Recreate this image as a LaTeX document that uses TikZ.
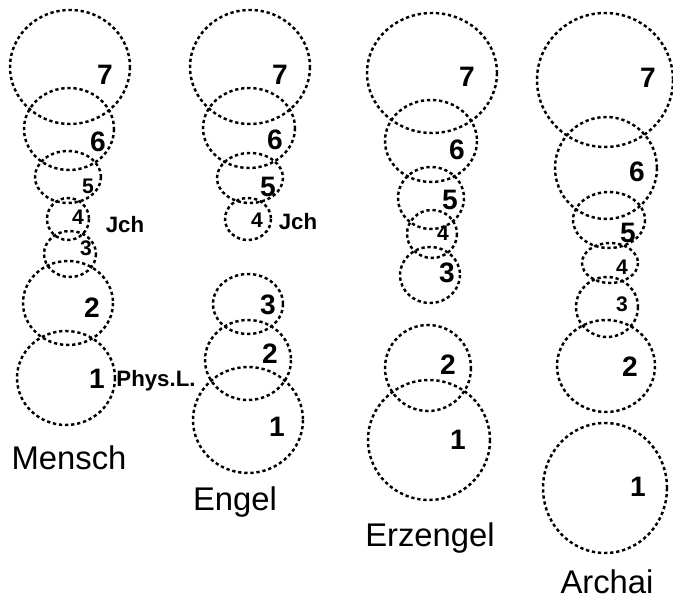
\documentclass[tikz,border=0pt]{standalone}
\usepackage{fontspec}
\setmainfont{Liberation Sans}
\usepackage{tikz}
\usetikzlibrary{positioning}

\begin{document}
\begin{tikzpicture}[
        x=0.3mm, y=-0.3mm,
        ring/.style={line width=2.1pt, dash pattern=on 2.8pt off 2.4pt},
        num/.style={font=\fontsize{24}{24}\selectfont\bfseries, inner sep=0pt},
        smallnum/.style={font=\fontsize{18}{18}\selectfont\bfseries, inner sep=0pt},
        tag/.style={font=\fontsize{19}{19}\selectfont\bfseries, inner sep=0pt},
        title/.style={font=\fontsize{28}{28}\selectfont, inner sep=0pt}
    ]
        \useasboundingbox (0,0) rectangle (673,605);

        % Column 1: Mensch
        \draw[ring] (70,67) ellipse [x radius=60, y radius=57];
        \draw[ring] (69,129) ellipse [x radius=45, y radius=41];
        \draw[ring] (68,177) ellipse [x radius=33, y radius=26];
        \draw[ring] (68,219) ellipse [x radius=21, y radius=21];
        \draw[ring] (70,254) ellipse [x radius=26, y radius=23];
        \draw[ring] (68,303) ellipse [x radius=45, y radius=42];
        \draw[ring] (66,378) ellipse [x radius=49, y radius=47];
        \node[num] (m7) at (105,75) {7};
        \node[num] (m6) at (98,142) {6};
        \node[smallnum] (m5) at (88,186) {5};
        \node[smallnum] (m4) at (78,217) {4};
        \node[smallnum] (m3) at (86,248) {3};
        \node[num] (m2) at (92,308) {2};
        \node[num] (m1) at (97,379) {1};
        \node[tag] (mich) at (125,225) {Jch};
        \node[tag] (mphys) at (156,381) {Phys.L.};
        \node[title] (mensch) at (69,458) {Mensch};

        % Column 2: Engel
        \draw[ring] (250,67) ellipse [x radius=60, y radius=57];
        \draw[ring] (249,128) ellipse [x radius=46, y radius=40];
        \draw[ring] (250,178) ellipse [x radius=33, y radius=25];
        \draw[ring] (248,219) ellipse [x radius=23, y radius=21];
        \draw[ring] (248,304) ellipse [x radius=35, y radius=30];
        \draw[ring] (248,360) ellipse [x radius=43, y radius=40];
        \draw[ring] (248,420) ellipse [x radius=55, y radius=53];
        \node[num] (e7) at (280,75) {7};
        \node[num] (e6) at (275,140) {6};
        \node[num] (e5) at (268,187) {5};
        \node[smallnum] (e4) at (257,220) {4};
        \node[tag] (eich) at (298,222) {Jch};
        \node[num] (e3) at (268,305) {3};
        \node[num] (e2) at (270,354) {2};
        \node[num] (e1) at (277,427) {1};
        \node[title] (engel) at (235,502) {Engel};

        % Column 3: Erzengel
        \draw[ring] (432,73) ellipse [x radius=65, y radius=60];
        \draw[ring] (431,141) ellipse [x radius=46, y radius=41];
        \draw[ring] (431,198) ellipse [x radius=33, y radius=31];
        \draw[ring] (432,234) ellipse [x radius=25, y radius=24];
        \draw[ring] (430,275) ellipse [x radius=30, y radius=28];
        \draw[ring] (428,368) ellipse [x radius=43, y radius=43];
        \draw[ring] (429,440) ellipse [x radius=61, y radius=60];
        \node[num] (z7) at (467,77) {7};
        \node[num] (z6) at (457,150) {6};
        \node[num] (z5) at (450,200) {5};
        \node[smallnum] (z4) at (443,233) {4};
        \node[num] (z3) at (447,273) {3};
        \node[num] (z2) at (448,365) {2};
        \node[num] (z1) at (458,440) {1};
        \node[title] (erzengel) at (430,538) {Erzengel};

        % Column 4: Archai
        \draw[ring] (605,80) ellipse [x radius=68, y radius=67];
        \draw[ring] (606,168) ellipse [x radius=51, y radius=51];
        \draw[ring] (609,220) ellipse [x radius=36, y radius=28];
        \draw[ring] (610,263) ellipse [x radius=28, y radius=20];
        \draw[ring] (607,307) ellipse [x radius=31, y radius=30];
        \draw[ring] (606,366) ellipse [x radius=49, y radius=46];
        \draw[ring] (605,488) ellipse [x radius=62, y radius=65];
        \node[num] (a7) at (648,78) {7};
        \node[num] (a6) at (637,172) {6};
        \node[num] (a5) at (628,233) {5};
        \node[smallnum] (a4) at (622,267) {4};
        \node[smallnum] (a3) at (622,304) {3};
        \node[num] (a2) at (630,367) {2};
        \node[num] (a1) at (638,487) {1};
        \node[title] (archai) at (607,582) {Archai};
    \end{tikzpicture}
\end{document}
